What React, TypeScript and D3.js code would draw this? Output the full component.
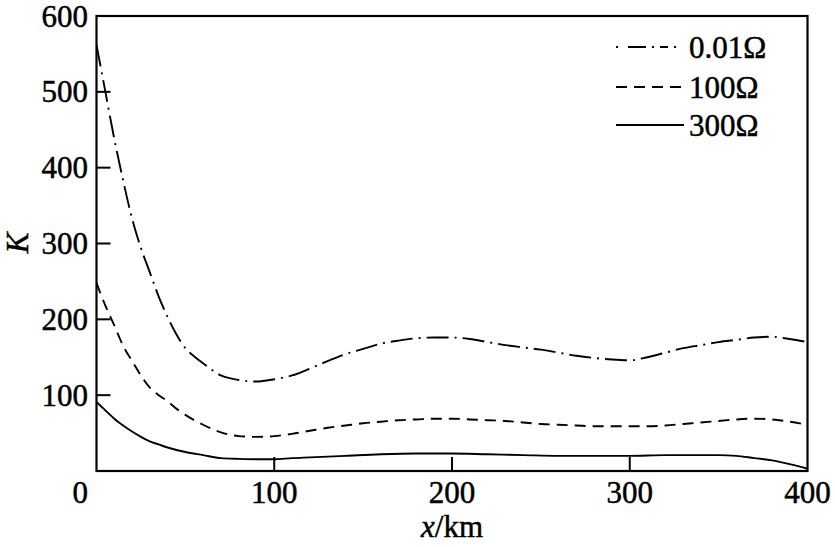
import React from "react";
import * as d3 from "d3";

const xTicks = [100, 200, 300, 400];
const yTicks = [100, 200, 300, 400, 500, 600];

const xs1 = [0, 5, 10, 15, 20, 25, 30, 35, 40, 45, 50, 55, 60, 70, 80, 90, 100, 110, 120, 130, 140, 150, 160, 170, 180, 190, 200, 210, 220, 230, 240, 250, 260, 270, 280, 290, 300, 310, 320, 330, 340, 350, 360, 370, 380, 390, 400];
const k001 = [562, 500, 438, 383, 333, 294, 262, 230, 203, 180, 162, 151, 142, 126, 120, 118, 121, 126, 135, 145, 154, 161, 168, 172, 175, 176, 176, 174, 170, 166, 163, 160, 156, 152, 149, 147, 146, 150, 156, 162, 166, 170, 173, 176, 177, 174, 170];
const k100 = [248, 218, 192, 165, 145, 126, 110, 100, 92, 82, 74, 67, 61, 51, 46, 45, 46, 49, 53, 57, 60, 63, 65, 67, 68, 69, 69, 68, 67, 66, 64, 62, 61, 60, 59, 59, 59, 59, 60, 62, 64, 66, 68, 69, 68, 65, 61];
const xs3 = [0, 5, 10, 15, 20, 25, 30, 35, 40, 50, 60, 70, 80, 90, 100, 110, 120, 140, 160, 180, 200, 220, 240, 260, 280, 300, 320, 340, 350, 360, 370, 380, 390, 400];
const k300 = [91, 80, 69, 60, 52, 45, 39, 35, 31, 25, 21, 17, 16, 15.5, 15.5, 17, 18, 20, 22, 23, 23, 22, 21, 20, 20, 20, 21, 21, 21, 20, 17, 14, 9, 3];

const seriesNames = ["0.01Ω", "100Ω", "300Ω"];
const dashes = ["22,6,2,6", "11,7", "none"];

export default function App() {
  const W = 835, H = 547;
  const L = 96.5, R = 807.5, T = 16, B = 471;
  const x = d3.scaleLinear().domain([0, 400]).range([L, R]);
  const y = d3.scaleLinear().domain([0, 600]).range([B, T]);
  const line = d3
    .line<[number, number]>()
    .x((d) => x(d[0]))
    .y((d) => y(d[1]))
    .curve(d3.curveMonotoneX);
  const data: [number, number][][] = [
    xs1.map((v, i) => [v, k001[i]] as [number, number]),
    xs1.map((v, i) => [v, k100[i]] as [number, number]),
    xs3.map((v, i) => [v, k300[i]] as [number, number]),
  ];
  const font = "'Liberation Serif', 'Times New Roman', serif";
  const fs = 31;
  const legendY = [47, 87, 125];
  const ts = { stroke: "#000", strokeWidth: 0.5 };
  return (
    <svg width={W} height={H} style={{ position: "absolute", left: 0, top: 0 }} fontFamily={font}>
      <rect width={W} height={H} fill="#fff" />
      <defs>
        <clipPath id="clip">
          <rect x={L} y={T} width={R - L} height={B - T} />
        </clipPath>
      </defs>
      {data.map((d, i) => (
        <path
          key={i}
          d={line(d) || ""}
          fill="none"
          stroke="#000"
          strokeWidth={1.9}
          strokeDasharray={dashes[i]}
          clipPath="url(#clip)"
        />
      ))}
      <rect x={L} y={T} width={R - L} height={B - T} fill="none" stroke="#000" strokeWidth={2.2} />
      {yTicks.slice(0, 5).map((t) => (
        <line key={t} x1={L} x2={L + 14} y1={y(t)} y2={y(t)} stroke="#000" strokeWidth={2} />
      ))}
      {xTicks.slice(0, 3).map((t) => (
        <line key={t} x1={x(t)} x2={x(t)} y1={B} y2={B - 14} stroke="#000" strokeWidth={2} />
      ))}
      {yTicks.map((t) => (
        <text key={t} x={88} y={y(t) + 10.5} fontSize={fs} textAnchor="end" {...ts}>
          {t}
        </text>
      ))}
      <text x={88} y={503} fontSize={fs} textAnchor="end" {...ts}>0</text>
      {xTicks.map((t) => (
        <text key={t} x={x(t)} y={503} fontSize={fs} textAnchor="middle" {...ts}>
          {t}
        </text>
      ))}
      <text x={452} y={537} fontSize={fs} textAnchor="middle" {...ts}>
        <tspan fontStyle="italic">x</tspan>/km
      </text>
      <text
        transform="translate(28,243) rotate(-90)"
        fontSize={fs}
        textAnchor="middle"
        fontStyle="italic"
        {...ts}
      >
        K
      </text>
      {seriesNames.map((n, i) => (
        <g key={n}>
          <line
            x1={616}
            x2={684}
            y1={legendY[i]}
            y2={legendY[i]}
            stroke="#000"
            strokeWidth={1.8}
            strokeDasharray={i === 0 ? "2,10,18,6,2,6,8,6" : i === 1 ? "11,7" : "none"}
          />
          <text x={689} y={legendY[i] + 10.5} fontSize={fs} {...ts}>
            {n}
          </text>
        </g>
      ))}
    </svg>
  );
}
